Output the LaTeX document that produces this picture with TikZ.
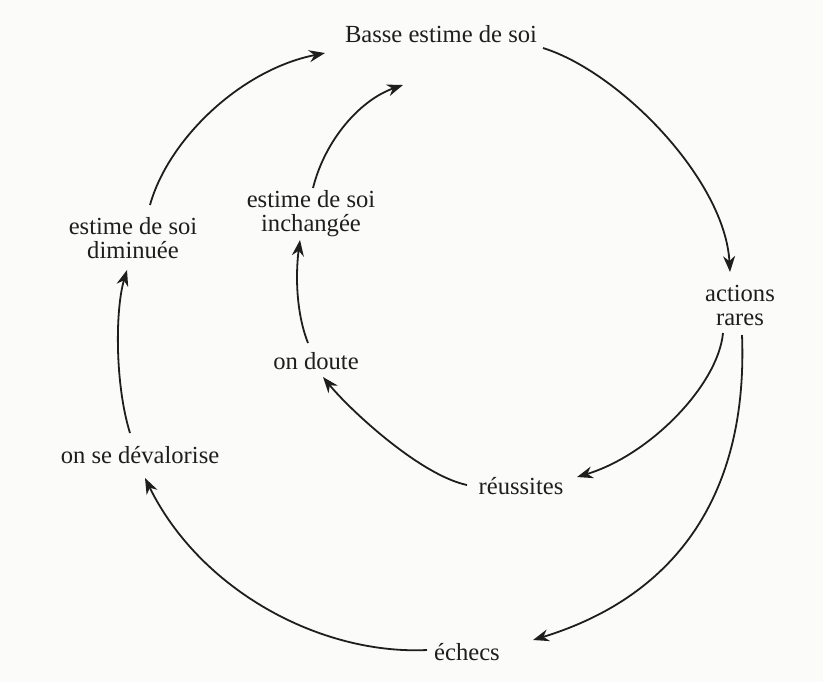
\documentclass[tikz,border=0pt]{standalone}
\usepackage{fontspec}
\setmainfont{Liberation Serif}
\usetikzlibrary{arrows.meta}
\definecolor{paper}{RGB}{251,251,250}
\definecolor{ink}{RGB}{30,30,30}
\tikzset{
  etat/.style={align=center,inner sep=3pt,text=ink,font=\fontsize{12.3}{12}\selectfont},
  fleche/.style={-{Stealth[length=8pt,width=6pt]},line width=0.9pt,draw=ink}
}
\begin{document}
\begin{tikzpicture}[x=0.5pt,y=0.5pt]
      \fill[paper] (0,0) rectangle (823,-682);
      \useasboundingbox (0,0) rectangle (823,-682);
      \draw
        (441,-34) node[etat] (basse){Basse estime de soi}
        (740,-305) node[etat] (actions){actions\\rares}
        (521,-486) node[etat] (reussites){réussites}
        (467,-652) node[etat] (echecs){échecs}
        (140,-455) node[etat] (devalorise){on se dévalorise}
        (133,-238) node[etat] (diminuee){estime de soi\\diminuée}
        (311,-214) node[etat] (inchangee){estime de soi\\inchangée}
        (316,-361) node[etat] (doute){on doute};
      \begin{scope}[fleche]
        \draw ([shift={(102,-14)}]basse.center) .. controls (620,-72) and (725,-180) .. ([shift={(-10,33)}]actions.center);
        \draw ([shift={(-17,-28)}]actions.center) .. controls (718,-385) and (650,-455) .. ([shift={(56,9)}]reussites.center);
        \draw ([shift={(2,-30)}]actions.center) .. controls (748,-490) and (680,-595) .. ([shift={(66,12)}]echecs.center);
        \draw ([shift={(-54,1)}]reussites.center) .. controls (420,-475) and (350,-410) .. ([shift={(7,-16)}]doute.center);
        \draw ([shift={(-8,18)}]doute.center) .. controls (295,-310) and (296,-270) .. ([shift={(-11,-26)}]inchangee.center);
        \draw ([shift={(2,26)}]inchangee.center) .. controls (325,-140) and (360,-100) .. ([shift={(-38,-51)}]basse.center);
        \draw ([shift={(-40,2)}]echecs.center) .. controls (320,-655) and (200,-590) .. ([shift={(5,-23)}]devalorise.center);
        \draw ([shift={(-10,22)}]devalorise.center) .. controls (115,-385) and (115,-310) .. ([shift={(-6,-32)}]diminuee.center);
        \draw ([shift={(17,33)}]diminuee.center) .. controls (168,-140) and (240,-70) .. ([shift={(-116,-19)}]basse.center);
      \end{scope}
    \end{tikzpicture}
\end{document}
